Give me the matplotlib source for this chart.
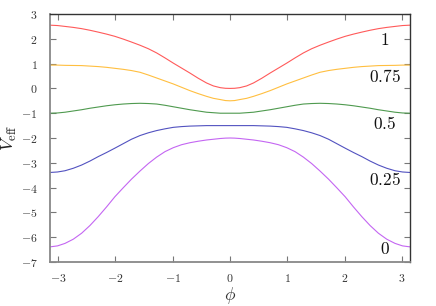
import numpy as np
import matplotlib
matplotlib.use("Agg")
import matplotlib.pyplot as plt

plt.rcParams['mathtext.fontset'] = 'cm'
plt.rcParams['font.family'] = 'serif'
plt.rcParams['font.serif'] = ['DejaVu Serif']

# left half (phi <= 0), mirrored for phi > 0
phi_half = [-3.1416, -3.01, -2.88, -2.735, -2.59, -2.445, -2.30, -2.155, -2.01, -1.865, -1.72, -1.57,
            -1.425, -1.28, -1.135, -0.99, -0.845, -0.70, -0.555, -0.41, -0.29, -0.17, -0.08, 0.0]
v_1   = [2.55, 2.535, 2.50, 2.46, 2.41, 2.345, 2.27, 2.19, 2.10, 1.99, 1.87, 1.74,
         1.60, 1.43, 1.23, 1.02, 0.82, 0.62, 0.41, 0.22, 0.10, 0.03, 0.005, 0.0]
v_075 = [0.94, 0.94, 0.93, 0.925, 0.92, 0.90, 0.88, 0.85, 0.81, 0.77, 0.72, 0.65,
         0.54, 0.42, 0.30, 0.18, 0.045, -0.09, -0.21, -0.32, -0.40, -0.45, -0.49, -0.50]
v_05  = [-1.0, -0.99, -0.96, -0.91, -0.86, -0.80, -0.75, -0.70, -0.66, -0.63, -0.61, -0.60,
         -0.61, -0.63, -0.68, -0.74, -0.80, -0.86, -0.91, -0.96, -0.98, -1.0, -1.0, -1.0]
v_025 = [-3.39, -3.37, -3.32, -3.22, -3.09, -2.93, -2.75, -2.585, -2.41, -2.23, -2.05, -1.90,
         -1.79, -1.70, -1.63, -1.57, -1.54, -1.52, -1.51, -1.50, -1.50, -1.50, -1.50, -1.50]
v_0   = [-6.39, -6.35, -6.25, -6.08, -5.84, -5.53, -5.17, -4.78, -4.37, -4.01, -3.66, -3.33,
         -3.03, -2.77, -2.55, -2.39, -2.27, -2.19, -2.13, -2.08, -2.05, -2.02, -2.005, -2.0]

labels = ['1', '0.75', '0.5', '0.25', '0']
label_y = [1.95, 0.46, -1.44, -3.72, -6.48]
colors = ['#ff5a5a', '#ffbf40', '#4f9a4f', '#5252c0', '#c466f2']
series = [v_1, v_075, v_05, v_025, v_0]

xticks = [-3, -2, -1, 0, 1, 2, 3]
yticks = [-7, -6, -5, -4, -3, -2, -1, 0, 1, 2, 3]

def mirror(xs, ys):
    xs = np.asarray(xs); ys = np.asarray(ys)
    return np.concatenate([xs, -xs[-2::-1]]), np.concatenate([ys, ys[-2::-1]])

fig = plt.figure(figsize=(4.36, 3.06), dpi=100)
ax = fig.add_axes([0.1147, 0.1438, 0.8257, 0.8104])

for vals, c in zip(series, colors):
    x, y = mirror(phi_half, vals)
    ax.plot(x, y, color=c, lw=0.8)

for lab, ly in zip(labels, label_y):
    ax.text(2.70, ly, '$' + lab + '$', ha='center', va='center', fontsize=12.5, color='#111111')

ax.set_xlim(-np.pi, np.pi)
ax.set_ylim(-7, 3)
ax.set_xticks(xticks)
ax.set_yticks(yticks)
ax.set_xticklabels(['$%d$' % t for t in xticks])
ax.set_yticklabels(['$%d$' % t for t in yticks])
ax.tick_params(direction='in', top=True, right=True, length=4, width=0.8,
               labelsize=8.5, colors='#777777', labelcolor='#333333')
ax.tick_params(axis='y', pad=9)
ax.tick_params(axis='x', pad=7)

for s in ['left', 'bottom']:
    ax.spines[s].set_color('#888888')
    ax.spines[s].set_linewidth(1.3)
for s in ['top', 'right']:
    ax.spines[s].set_color('#333333')
    ax.spines[s].set_linewidth(1.0)

ax.set_xlabel(r'$\phi$', fontsize=12.5, color='#333333', labelpad=0)
ax.set_ylabel(r'$V_{\rm eff}$', fontsize=13, color='#222222', labelpad=1)

fig.savefig('out.png', dpi=100)
